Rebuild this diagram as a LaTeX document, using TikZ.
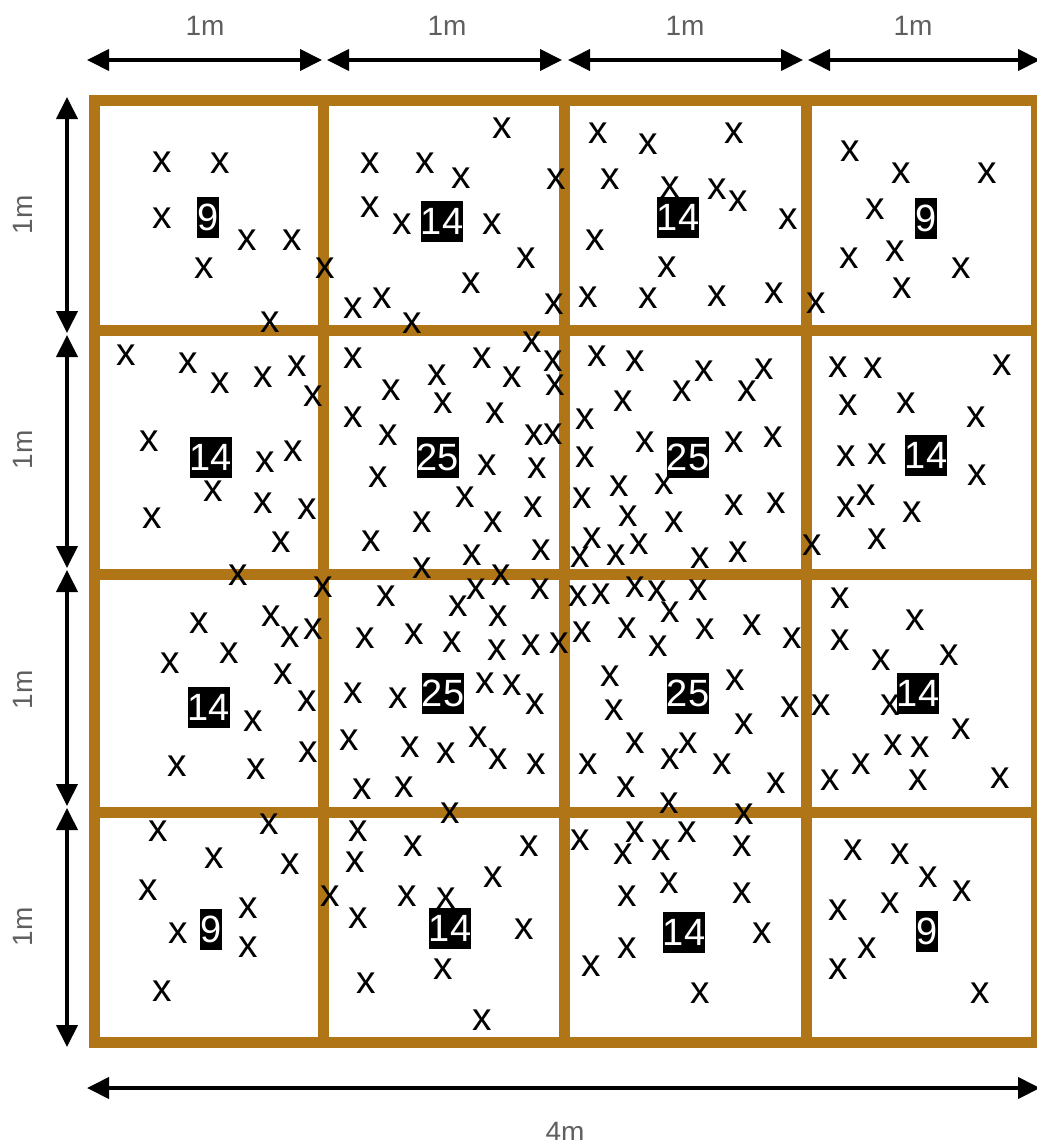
\documentclass[tikz,border=0pt]{standalone}
\usepackage{fontspec}
\setmainfont{Liberation Sans}
\usetikzlibrary{arrows.meta}
\definecolor{GridBrown}{RGB}{176,117,22}
\definecolor{DimGray}{RGB}{95,95,95}

\begin{document}
\begin{tikzpicture}[x=0.5pt, y=-0.5pt,
	gridline/.style={draw=GridBrown, line width=5.5pt},
	cross/.style={inner sep=0pt, font=\fontsize{19.5}{19.5}\selectfont},
	countbox/.style={fill=black, text=white, inner xsep=0pt, inner ysep=0pt,
		minimum height=20.5pt, font=\fontsize{19}{19}\selectfont},
	dimarrow/.style={line width=2pt,
		{Triangle[length=11pt,width=10.5pt]}-{Triangle[length=11pt,width=10.5pt]}},
	dimlabel/.style={text=DimGray, font=\fontsize{14}{14}\selectfont}]
	\useasboundingbox (0,0) rectangle (1037,1140);

	% plot grid
	\draw[gridline] (94,100) rectangle (1036,1042);
	\foreach \gx in {323,564,806}
		\draw[gridline] (\gx,100) -- (\gx,1042);
	\foreach \gy in {330,574,812}
		\draw[gridline] (94,\gy) -- (1036,\gy);

	% sampled points
	\foreach \px/\py [count=\k] in {
		162/162, 220/163, 162/218, 247/240, 292/240, 204/268, 325/268, 270/322,
		502/128, 370/163, 425/163, 461/178, 556/179, 370/207, 402/224, 492/224,
		526/258, 471/283, 382/298, 353/308, 554/304, 412/323,
		598/133, 648/144, 734/133, 610/179, 670/187, 717/189, 738/201, 788/219,
		595/240, 667/267, 588/297, 648/298, 717/296, 774/293, 816/303,
		850/151, 901/173, 987/173, 875/209, 849/258, 895/251, 961/268, 902/288,
		126/355, 188/363, 220/383, 263/377, 297/366, 313/396, 149/441, 265/462,
		293/451, 213/491, 263/503, 307/509, 152/518, 281/542, 238/575,
		532/342, 353/358, 482/358, 553/361, 437/375, 512/377, 555/385, 391/390,
		443/403, 495/413, 353/417, 388/435, 534/435, 553/434, 487/465, 537/468,
		378/477, 465/497, 533/507, 422/522, 493/522, 371/541, 472/555, 541/550,
		422/568, 501/575,
		597/356, 635/361, 704/371, 764/369, 682/391, 747/391, 623/401, 585/419,
		645/442, 734/442, 773/437, 585/457, 582/498, 619/486, 664/484, 628/516,
		674/522, 734/505, 776/503, 592/538, 639/544, 580/557, 616/555, 700/558,
		738/552, 812/545,
		838/367, 873/368, 1002/365, 848/405, 906/403, 976/417, 846/456, 877/454,
		977/475, 846/507, 866/495, 912/512, 877/539,
		323/587, 199/623, 271/616, 290/637, 313/629, 170/663, 229/653, 283/674,
		307/701, 253/721, 308/752, 177/766, 256/769,
		476/589, 540/589, 386/596, 458/606, 498/616, 365/638, 414/634, 452/642,
		497/650, 531/645, 559/643, 353/693, 398/698, 485/683, 512/685, 535/704,
		349/740, 410/747, 446/753, 478/737, 498/759, 536/764, 362/789, 404/787,
		450/813,
		578/596, 601/594, 635/587, 657/591, 698/590, 670/612, 582/632, 627/628,
		658/646, 705/629, 752/625, 792/638, 610/676, 735/680, 614/710, 790/707,
		744/724, 635/743, 688/743, 670/759, 722/764, 588/764, 626/787, 776/783,
		669/803, 744/814,
		840/598, 915/620, 840/640, 881/660, 949/655, 821/705, 890/705, 961/729,
		893/745, 920/747, 861/764, 830/780, 918/780, 1000/778,
		158/831, 269/824, 214/858, 290/864, 148/890, 248/908, 178/933, 248/947,
		162/991,
		358/831, 355/862, 413/846, 529/846, 330/896, 407/896, 446/898, 493/877,
		358/918, 524/929, 443/969, 366/983, 482/1020,
		580/840, 635/832, 687/832, 623/854, 661/850, 742/846, 669/883, 627/896,
		742/893, 762/933, 627/948, 591/966, 700/993,
		853/850, 900/854, 928/877, 962/891, 890/903, 838/910, 867/948, 838/969,
		980/993}
		\node[cross] (pt\k) at (\px,\py) {x};

	% counts per square
	\foreach \px/\py/\n [count=\k] in {
		208/217/9, 442/221/14, 678/217/14, 926/218/9,
		211/457/14, 438/457/25, 688/457/25, 926/455/14,
		209/707/14, 443/693/25, 688/693/25, 918/693/14,
		211/929/9, 450/928/14, 684/932/14, 927/931/9}
		\node[countbox] (count\k) at (\px,\py) {\n};

	% dimensions
	\foreach \a/\b/\lx [count=\k] in {87/322/205, 327/562/447, 568/803/685, 808/1040/913}{
		\coordinate (topl\k) at (\a,60);
		\coordinate (topr\k) at (\b,60);
		\draw[dimarrow] (topl\k) -- (topr\k);
		\node[dimlabel] (toplab\k) at (\lx,26) {1m};
	}
	\foreach \a/\b/\ly [count=\k] in {97/333/215, 335/568/450, 570/806/690, 808/1047/927}{
		\coordinate (sidet\k) at (67,\a);
		\coordinate (sideb\k) at (67,\b);
		\draw[dimarrow] (sidet\k) -- (sideb\k);
		\node[dimlabel, rotate=90] (sidelab\k) at (23,\ly) {1m};
	}
	\coordinate (botl) at (87,1088);
	\coordinate (botr) at (1040,1088);
	\draw[dimarrow] (botl) -- (botr);
	\node[dimlabel] (botlab) at (565,1132) {4m};
\end{tikzpicture}
\end{document}
